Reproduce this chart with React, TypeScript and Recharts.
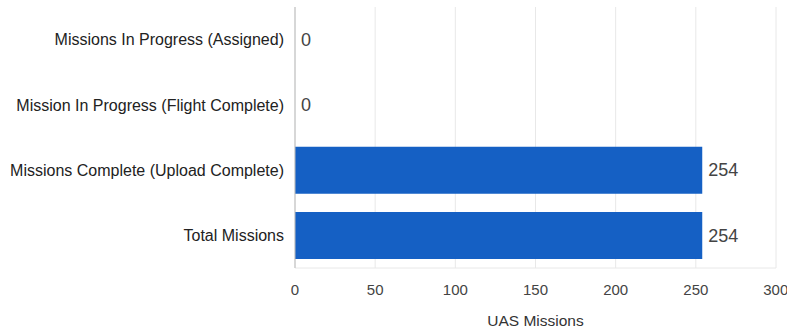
import { BarChart, Bar, XAxis, YAxis, CartesianGrid } from "recharts";

const categories = [
  "Missions In Progress (Assigned)",
  "Mission In Progress (Flight Complete)",
  "Missions Complete (Upload Complete)",
  "Total Missions",
];
const missions = [0, 0, 254, 254];
const xTicks = [0, 50, 100, 150, 200, 250, 300];

const data = categories.map((name, i) => ({ name, value: missions[i] }));

const font = "'Liberation Sans', Arial, sans-serif";

// custom label so the zero-value rows still show "0"
const ValueLabel = (props: any) => {
  const { x, y, width, height, value } = props;
  return (
    <text
      x={Number(x) + Number(width || 0) + 6}
      y={Number(y) + Number(height) / 2}
      dy="0.35em"
      fill="#444"
      fontSize={18}
      fontFamily={font}
    >
      {value}
    </text>
  );
};

export default function App() {
  return (
    <div style={{ position: "absolute", left: 0, top: 0, background: "#fff" }}>
      <BarChart
        width={787}
        height={330}
        data={data}
        layout="vertical"
        barCategoryGap="14%"
        margin={{ top: 7, right: 11, left: 0, bottom: 0 }}
        style={{ fontFamily: font }}
      >
        <CartesianGrid horizontal={false} stroke="#e8e8e8" />
        <XAxis
          type="number"
          domain={[0, 300]}
          ticks={xTicks}
          height={62}
          tickLine={false}
          tickMargin={10}
          axisLine={{ stroke: "#e8e8e8" }}
          tick={{ fill: "#444", fontSize: 15 }}
          label={{
            value: "UAS Missions",
            position: "insideBottom",
            offset: 4,
            fill: "#333",
            fontSize: 15.5,
          }}
        />
        <YAxis
          type="category"
          dataKey="name"
          width={295}
          tickLine={false}
          tickMargin={5}
          axisLine={{ stroke: "#bbb" }}
          tick={{ fill: "#222", fontSize: 16 }}
        />
        <Bar
          dataKey="value"
          fill="#1560c4"
          minPointSize={0.01}
          isAnimationActive={false}
          label={ValueLabel}
        />
      </BarChart>
    </div>
  );
}
